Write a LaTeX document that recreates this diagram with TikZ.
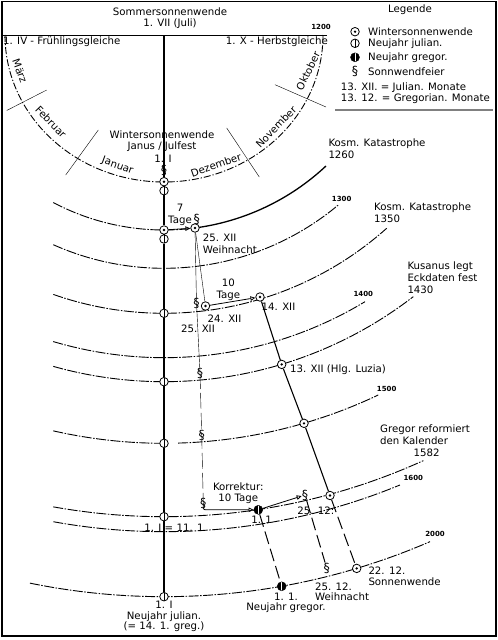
\documentclass[tikz,border=0pt]{standalone}
\usepackage{fontspec}
\setmainfont{DejaVu Sans}
\usepackage{tikz}
\usetikzlibrary{arrows.meta}
\tikzset{
  lbl/.style={font=\fontsize{10.2}{11.7}\selectfont, inner sep=0pt},
  lblt/.style={font=\fontsize{10.2}{10.4}\selectfont, inner sep=0pt},
  yrl/.style={font=\bfseries\fontsize{7}{8}\selectfont, inner sep=0pt},
  wsw/.style={circle, draw, line width=0.8pt, fill=white, inner sep=0pt, minimum size=8.5pt,
              path picture={\fill[black] (path picture bounding box.center) circle (1.3pt);}},
  nju/.style={circle, draw, line width=0.8pt, fill=white, inner sep=0pt, minimum size=8.5pt,
              path picture={\draw[black, line width=0.8pt] (path picture bounding box.north) -- (path picture bounding box.south);}},
  ngr/.style={circle, draw, fill=black, inner sep=0pt, minimum size=9pt,
              path picture={\draw[white, line width=1pt] (path picture bounding box.north) -- (path picture bounding box.south);}},
  sfe/.style={font=\fontsize{12.5}{12.5}\selectfont, inner sep=0pt},
  yr/.style={line width=0.9pt, dash pattern=on 10pt off 1.5pt on 1.5pt off 1.5pt},
  mon/.style={line width=0.9pt, dash pattern=on 7pt off 2pt on 1.2pt off 2pt},
  tg/.style={-{Triangle[open, length=5pt, width=4.5pt]}, line width=0.8pt},
  dl/.style={line width=1pt, dash pattern=on 13pt off 5pt}
}
\begin{document}
\begin{tikzpicture}[x=1pt, y=-1pt]
  \useasboundingbox (0,0) rectangle (498,640);
  \draw[line width=1.5pt] (2,1.5) rectangle (496,636);
  % month ring
  \draw[semithick] (2,35) -- (327,35);
  \draw[mon] (5,35) arc[start angle=180, end angle=360, x radius=159pt, y radius=147pt];
  \draw[thin] (6.7,110.5) -- (46.7,90);
  \draw[thin] (65.7,175) -- (98.3,130);
  \draw[thin] (226.7,128) -- (259.3,177);
  \draw[thin] (275,84.7) -- (326,107);
  % year arcs
  \draw[yr] (164,-7) ++(242.15:237pt) arc[start angle=242.15, end angle=277.52, radius=237pt];
  \draw[line width=1.3pt] (164,-7) ++(277.52:237pt) arc[start angle=277.52, end angle=313.12, radius=237pt];
  \draw[yr] (164,-3.3) ++(245.95:271.6pt) arc[start angle=245.95, end angle=309.93, radius=271.6pt];
  \draw[yr] (164,-20.9) ++(250.66:334.2pt) arc[start angle=250.66, end angle=311.79, radius=334.2pt];
  \draw[yr] (164,-31) ++(253.45:388.7pt) arc[start angle=253.45, end angle=301.14, radius=388.7pt];
  \draw[yr] (164,-26.3) ++(254.26:408pt) arc[start angle=254.26, end angle=307.66, radius=408pt];
  \draw[yr] (164,-56.3) ++(257.2:499.6pt) arc[start angle=257.2, end angle=270, radius=499.6pt];
  \draw[yr] (164,-56.3) ++(271.61:499.6pt) arc[start angle=271.61, end angle=295.4, radius=499.6pt];
  \draw[yr] (164,-111.6) ++(259.85:628.3pt) arc[start angle=259.85, end angle=294.38, radius=628.3pt];
  \draw[yr] (164,-88) ++(259.71:619.7pt) arc[start angle=259.71, end angle=292.38, radius=619.7pt];
  \draw[yr] (164,-74) ++(258.47:670.7pt) arc[start angle=258.47, end angle=293.37, radius=670.7pt];

  % top texts
  \node[lbl, align=center] (sow) at (170,18) {Sommersonnenwende\\1. VII (Juli)};
  \node[lbl, anchor=west] (frg) at (3,42) {1. IV - Frühlingsgleiche};
  \node[lbl, anchor=east] (hbg) at (328,42) {1. X - Herbstgleiche};
  \node[yrl] (y1200) at (321,27) {1200};
  \node[lbl, rotate=-70] (mar) at (20,71) {März};
  \node[lbl, rotate=-46] (feb) at (51,122) {Februar};
  \node[lbl, rotate=-20] (jan) at (117.5,166) {Januar};
  \node[lbl, rotate=19] (dez) at (216,165) {Dezember};
  \node[lbl, rotate=46] (nov) at (276,127) {November};
  \node[lbl, rotate=64] (okt) at (308,71) {Oktober};
  \node[lbl, align=center] (wsj) at (162,141) {Wintersonnenwende\\Janus / Julfest};
  \node[lbl] (d11) at (163,159) {1. I};

  % legend
  \node[lbl] (leg) at (410,10) {Legende};
  \node[wsw] (lws) at (355,31.7) {};
  \node[lbl, anchor=west] (lwst) at (368,31.7) {Wintersonnenwende};
  \node[nju] (lnj) at (355,43.3) {};
  \node[lbl, anchor=west] (lnjt) at (368,43.3) {Neujahr julian.};
  \node[ngr] (lng) at (355,57.3) {};
  \node[lbl, anchor=west] (lngt) at (368,57.3) {Neujahr gregor.};
  \node[sfe] (lsf) at (355,71.7) {\S};
  \node[lbl, anchor=west] (lsft) at (368,71.7) {Sonnwendfeier};
  \node[lbl, anchor=west] (ljm) at (340.7,87.3) {13. XII. = Julian. Monate};
  \node[lbl, anchor=west] (lgm) at (340.7,99) {13. 12. = Gregorian. Monate};
  \draw[line width=2.5pt, gray] (335,110) -- (493,110);

  % year labels
  \node[lbl, anchor=west, align=left] (kk1) at (328.3,149) {Kosm. Katastrophe\\1260};
  \node[yrl] (y1300) at (341.7,199.3) {1300};
  \node[lbl, anchor=west, align=left] (kk2) at (374,212.5) {Kosm. Katastrophe\\1350};
  \node[lbl, anchor=west, align=left] (kus) at (407.3,277.7) {Kusanus legt\\Eckdaten fest\\1430};
  \node[yrl] (y1400) at (363.3,294.3) {1400};
  \node[yrl] (y1500) at (386.7,389.3) {1500};
  \node[lbl, anchor=west, align=left] (greg) at (380,434.5) {Gregor reformiert\\den Kalender};
  \node[lbl] (g1582) at (426.7,452.3) {1582};
  \node[yrl] (y1600) at (413.3,478.3) {1600};
  \node[yrl] (y2000) at (435,534) {2000};

  % symbols on the axis
  \coordinate (top) at (164,35);
  \node[sfe] (sf0) at (164,170) {\S};
  \node[wsw] (ws0) at (164,181.7) {};
  \node[nju] (nj0) at (164,190.7) {};
  \node[wsw] (ws1) at (164,230) {};
  \node[nju] (nj1) at (164,239) {};
  \node[nju] (nj2) at (164,313.3) {};
  \node[nju] (nj3) at (164,381.7) {};
  \node[nju] (nj4) at (164,443.3) {};
  \node[nju] (nj5) at (164,516.7) {};
  \node[nju] (nj6) at (164,596.7) {};

  % 1260
  \node[wsw] (ws2) at (195,228) {};
  \node[sfe] (sf1) at (196.7,219) {\S};
  \node[lbl, align=center] (t7) at (180,214.5) {7\\Tage};
  \node[lbl, anchor=west, align=left] (wn1) at (202.7,243.8) {25. XII\\Weihnacht};
  % 1350
  \node[sfe] (sf2) at (196.5,303) {\S};
  \node[wsw] (ws3) at (205.5,306) {};
  \node[wsw] (ws4) at (260,297) {};
  \node[lbl, align=center] (t10) at (228.3,289.5) {10\\Tage};
  \node[lbl] (d1412) at (278.5,306.5) {14. XII};
  \node[lbl] (d2412) at (224.5,319) {24. XII};
  \node[lbl] (d2512) at (198,328.3) {25. XII};
  % 1430, 1500
  \node[sfe] (sf3) at (200,373) {\S};
  \node[wsw] (ws5) at (281.7,364.4) {};
  \node[lbl, anchor=west] (luz) at (290,369.3) {13. XII (Hlg. Luzia)};
  \node[sfe] (sf4) at (201.7,435) {\S};
  \node[wsw] (ws6) at (304,423.3) {};
  % 1582, 1600
  \node[sfe] (sf5) at (203.3,503) {\S};
  \node[ngr] (ng1) at (258.3,509.8) {};
  \node[sfe] (sf6) at (305,495) {\S};
  \node[wsw] (ws7) at (330,495.5) {};
  \node[lblt, align=center] (kor) at (238.3,493.3) {Korrektur:\\10 Tage};
  \node[lbl] (d11b) at (261.7,520) {1. 1};
  \node[lbl] (d2512b) at (315.8,511) {25. 12:};
  \node[lbl] (eq) at (174,527.5) {1. I = 11. 1};
  % 2000
  \node[ngr] (ng2) at (281.7,586.3) {};
  \node[sfe] (sf7) at (326.7,568) {\S};
  \node[wsw] (ws8) at (356.7,568.4) {};
  \node[lblt, align=center] (nj6l) at (164,616.7) {1. I\\Neujahr julian.\\(= 14. 1. greg.)};
  \node[lblt, align=center] (ng2l) at (286,602.8) {1. 1.\\Neujahr gregor.};
  \node[lblt, anchor=west, align=left] (wn2) at (315,592) {25. 12.\\Weihnacht};
  \node[lblt, anchor=west, align=left] (sw2) at (368.3,576.2) {22. 12.\\Sonnenwende};

  % connectors
  \draw[line width=1.3pt] (top) -- (ws0) -- (nj0) -- (ws1) -- (nj1) -- (nj2) -- (nj3) -- (nj4) -- (nj5) -- (nj6);
  \draw[tg] (ws1) -- (ws2);
  \draw[tg] (ws3) -- (ws4);
  \draw (ws2) -- (sf2.center);
  \draw (ws2) -- (ws3);
  \draw (sf2.center) -- (sf3.center);
  \draw[dash pattern=on 16pt off 4pt] (sf3.center) -- (sf4.center) -- (sf5.center);
  \draw[tg, rounded corners=2pt] (sf5.center) |- (ng1.west);
  \draw[tg] (ng1) -- (sf6);
  \draw[line width=1.1pt] (ws4) -- (ws5) -- (ws6) -- (ws7);
  \draw[dl] (ws7) -- (ws8);
  \draw[dl] (ng1) -- (ng2);
  \draw[dl] (sf6) -- (sf7);
\end{tikzpicture}
\end{document}
